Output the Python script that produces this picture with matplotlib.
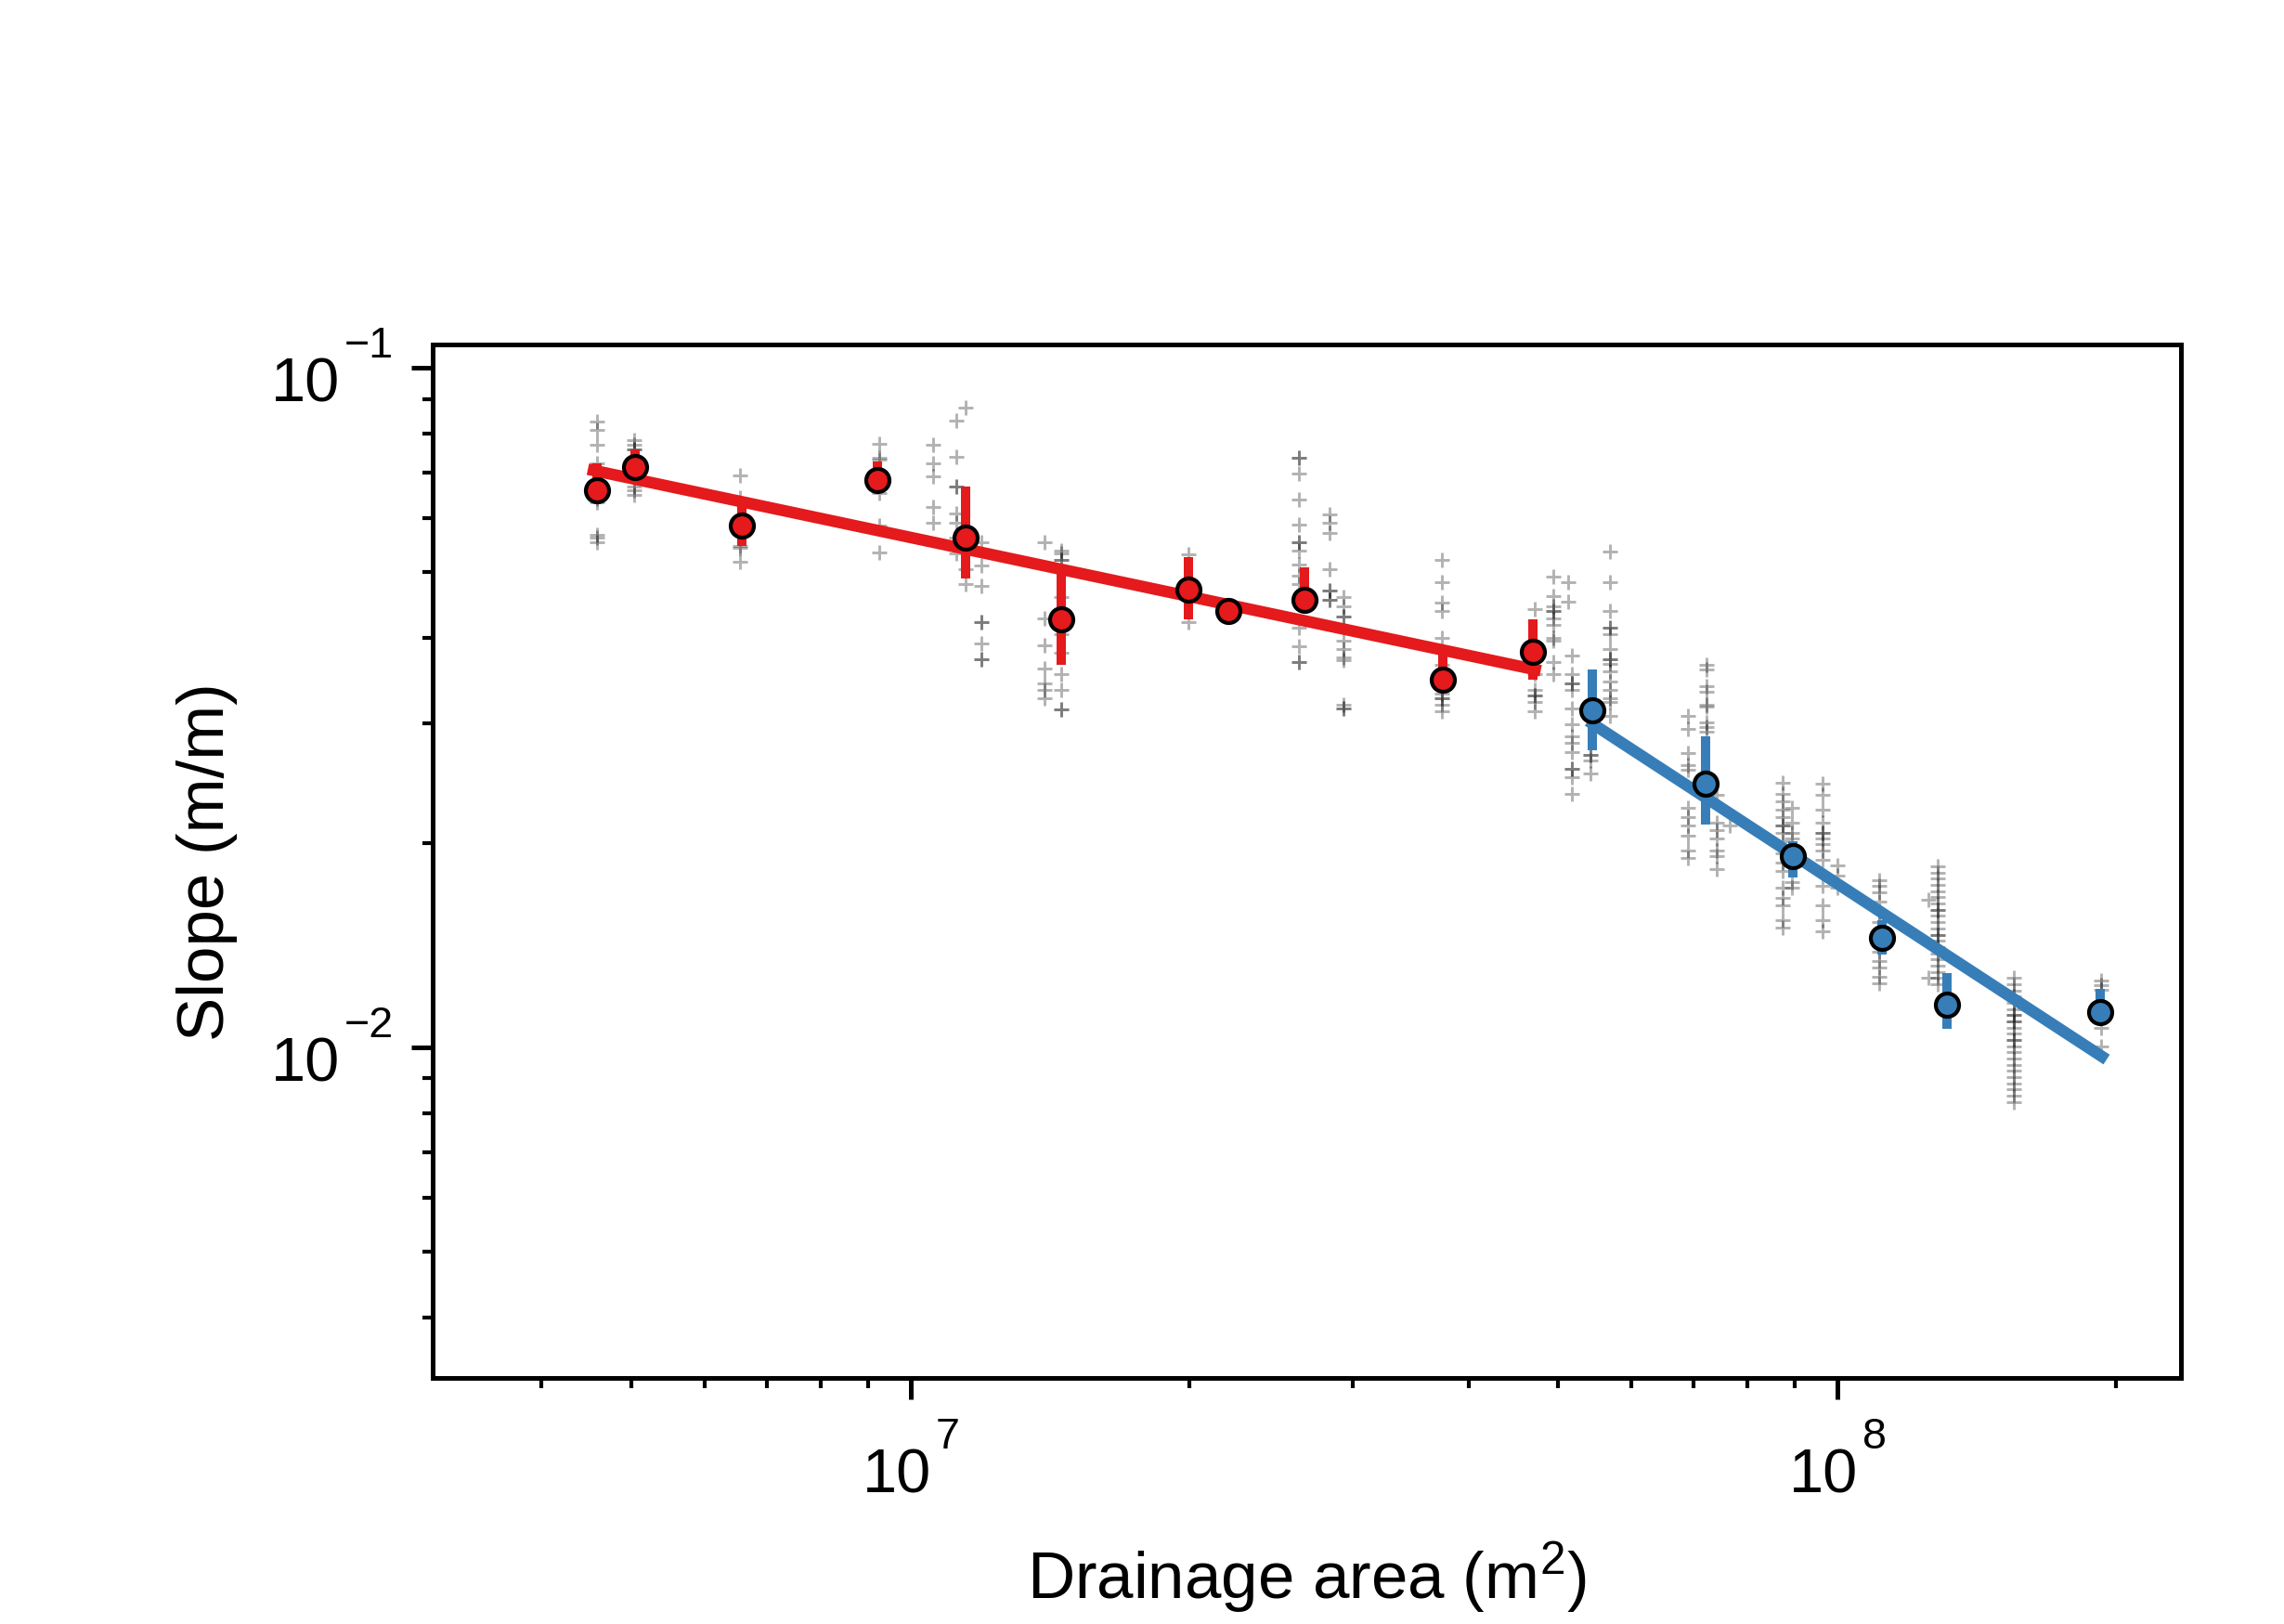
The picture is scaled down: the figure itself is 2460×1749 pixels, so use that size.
import numpy as np
import matplotlib
matplotlib.use("Agg")
import matplotlib.pyplot as plt
from matplotlib.transforms import offset_copy

plt.rcParams['font.family'] = ['Liberation Sans', 'DejaVu Sans']
plt.rcParams['font.size'] = 17

# binned channel data (drainage area m^2, slope m/m)
red_area = [4.59e6, 5.04e6, 6.58e6, 9.21e6, 1.148e7, 1.453e7, 1.995e7, 2.203e7, 2.66e7, 3.75e7, 4.70e7]
red_slope = [0.0661, 0.0715, 0.0586, 0.0683, 0.0562, 0.0426, 0.0472, 0.0438, 0.0455, 0.0347, 0.0382]
red_lo = [0.0655, 0.0690, 0.0547, 0.0675, 0.0490, 0.0365, 0.0426, 0.0438, 0.0440, 0.0343, 0.0347]
red_hi = [0.0723, 0.0758, 0.0631, 0.0727, 0.0668, 0.0506, 0.0526, 0.0438, 0.0508, 0.0379, 0.0427]

blue_area = [5.44e7, 7.21e7, 8.96e7, 1.118e8, 1.313e8, 1.924e8]
blue_slope = [0.0313, 0.0244, 0.0191, 0.0145, 0.01155, 0.01126]
blue_lo = [0.0274, 0.0213, 0.0178, 0.0137, 0.01064, 0.01080]
blue_hi = [0.0360, 0.0287, 0.0201, 0.0154, 0.01285, 0.01219]

# power law fits S = ks * A^-theta
red_ks, red_theta, red_range = 5.886, 0.2885, (4.55e6, 4.72e7)
blue_ks, blue_theta, blue_range = 2.33e5, 0.8908, (5.45e7, 1.93e8)

# major tick labels (base, exponent)
xtick_vals = [1e7, 1e8]
xtick_exp = ['7', '8']
ytick_vals = [1e-1, 1e-2]
ytick_exp = ['\u22121', '\u22122']

# raw pixel values
col_area = [4.59e6, 5.03e6, 6.55e6, 9.25e6, 1.058e7, 1.121e7, 1.147e7, 1.192e7, 1.395e7, 1.455e7,
            1.995e7, 2.628e7, 2.832e7, 2.93e7, 3.745e7, 4.72e7, 4.94e7, 5.13e7, 5.17e7, 5.42e7,
            5.68e7, 6.90e7, 7.22e7, 7.41e7, 7.66e7, 8.74e7, 8.94e7, 9.64e7, 1.0e8, 1.109e8,
            1.254e8, 1.284e8, 1.55e8, 1.927e8]
col_slope = [
    [0.0833, 0.0811, 0.0770, 0.0723, 0.0641, 0.0634, 0.0568, 0.0562, 0.0553],
    [0.0782, 0.0770, 0.0758, 0.0758, 0.0668, 0.0661, 0.0651],
    [0.0695, 0.0644, 0.0547, 0.0544, 0.0518],
    [0.0772, 0.0738, 0.0732, 0.0654, 0.0586, 0.0534],
    [0.0770, 0.0724, 0.0692, 0.0624, 0.0592],
    [0.0836, 0.0740, 0.0668, 0.0668, 0.0611, 0.0592, 0.0562, 0.0533],
    [0.0875, 0.0506, 0.0480],
    [0.0553, 0.0511, 0.0478, 0.0423, 0.0423, 0.0393, 0.0373, 0.0373],
    [0.0553, 0.0428, 0.0391, 0.0361, 0.0343, 0.0336, 0.0326],
    [0.0539, 0.0533, 0.0522, 0.0522, 0.0460, 0.0441, 0.0406, 0.0381, 0.0354, 0.0336, 0.0314, 0.0314],
    [0.0531, 0.0423],
    [0.0738, 0.0738, 0.0699, 0.0639, 0.0587, 0.0553, 0.0553, 0.0539, 0.0514, 0.0495, 0.0480, 0.0414, 0.0389, 0.0369, 0.0369],
    [0.0608, 0.0592, 0.0571, 0.0505, 0.0470, 0.0470, 0.0455, 0.0455],
    [0.0460, 0.0446, 0.0430, 0.0430, 0.0397, 0.0385, 0.0375, 0.0371, 0.0319, 0.0315, 0.0315],
    [0.0521, 0.0483, 0.0451, 0.0439, 0.0401, 0.0365, 0.0332, 0.0326, 0.0326, 0.0319, 0.0312],
    [0.0442, 0.0354, 0.0336, 0.0329, 0.0329, 0.0322, 0.0312],
    [0.0493, 0.0462, 0.0446, 0.0439, 0.0439, 0.0428, 0.0419, 0.0401, 0.0397, 0.0369, 0.0354],
    [0.0483, 0.0453],
    [0.0377, 0.0354, 0.0343, 0.0343, 0.0336, 0.0315, 0.0299, 0.0287, 0.0281, 0.0272, 0.0257, 0.0257, 0.0250, 0.0236],
    [0.0269, 0.0269, 0.0264, 0.0253],
    [0.0536, 0.0483, 0.0439, 0.0414, 0.0414, 0.0406, 0.0385, 0.0373, 0.0373, 0.0367, 0.0358, 0.0345,
     0.0336, 0.0326, 0.0322, 0.0307],
    [0.0307, 0.0294, 0.0271, 0.0260, 0.0256, 0.0225, 0.0218, 0.0212, 0.0205, 0.0195, 0.0190],
    [0.0365, 0.0360, 0.0340, 0.0334, 0.0319, 0.0317, 0.0301, 0.0296, 0.0291],
    [0.0235, 0.0214, 0.0209, 0.0203, 0.0195, 0.0191, 0.0183],
    [0.0212],
    [0.0245, 0.0236, 0.0230, 0.0224, 0.0218, 0.0212, 0.0212, 0.0207, 0.0201, 0.0193, 0.0187, 0.0182,
     0.0172, 0.0166, 0.0162, 0.0154, 0.0150],
    [0.0225, 0.0214, 0.0207, 0.0203, 0.0175, 0.0172],
    [0.0244, 0.0235, 0.0224, 0.0214, 0.0207, 0.0207, 0.0203, 0.0199, 0.0195, 0.0189, 0.0173, 0.0162,
     0.0154, 0.0148],
    [0.0185, 0.0179, 0.0172],
    [0.0176, 0.0173, 0.0169, 0.0164, 0.0158, 0.0153, 0.0148, 0.0142, 0.0138, 0.0134, 0.0131, 0.0127, 0.0124],
    [0.0165, 0.01266],
    [0.01846, 0.01808, 0.01770, 0.01734, 0.01697, 0.01662, 0.01628, 0.01594, 0.01594, 0.01561, 0.01528,
     0.01496, 0.01464, 0.01464, 0.01434, 0.01404, 0.01375, 0.01347, 0.01319, 0.01291, 0.01265, 0.01239],
    [0.01266, 0.01239, 0.01212, 0.01189, 0.01163, 0.01138, 0.01116, 0.01116, 0.01092, 0.01092, 0.01068,
     0.01048, 0.01025, 0.01025, 0.01003, 0.00984, 0.00963, 0.00942, 0.00924, 0.00904, 0.00885, 0.00868,
     0.00849, 0.00830],
    [0.01252, 0.01233, 0.01213, 0.01069, 0.01004],
]

RED = '#e41a1c'
BLUE = '#377eb8'

fig = plt.figure(figsize=(8.2, 5.8333), dpi=300)
ax = fig.add_axes([0.1894, 0.1514, 0.7655, 0.636])

for a, s in zip(col_area, col_slope):
    ax.plot([a] * len(s), s, '+', color='k', alpha=0.3, ms=4, mew=0.7, zorder=1)

ax.errorbar(red_area, red_slope,
            yerr=[np.array(red_slope) - np.array(red_lo), np.array(red_hi) - np.array(red_slope)],
            fmt='none', ecolor=RED, elinewidth=2.4, capsize=0, zorder=2)
ax.errorbar(blue_area, blue_slope,
            yerr=[np.array(blue_slope) - np.array(blue_lo), np.array(blue_hi) - np.array(blue_slope)],
            fmt='none', ecolor=BLUE, elinewidth=2.4, capsize=0, zorder=2)

xr = np.array(red_range)
ax.plot(xr, red_ks * xr ** -red_theta, '-', color=RED, lw=3, zorder=3)
xb = np.array(blue_range)
ax.plot(xb, blue_ks * xb ** -blue_theta, '-', color=BLUE, lw=3, zorder=3)

ax.plot(red_area, red_slope, 'o', mfc=RED, mec='k', ms=6, mew=1, zorder=4)
ax.plot(blue_area, blue_slope, 'o', mfc=BLUE, mec='k', ms=6, mew=1, zorder=4)

ax.set_xscale('log')
ax.set_yscale('log')
ax.set_xlim(3.05e6, 2.35e8)
ax.set_ylim(0.00326, 0.1082)

for sp in ax.spines.values():
    sp.set_linewidth(1.2)
ax.set_xticks(xtick_vals)
ax.set_yticks(ytick_vals)
ax.tick_params(which='major', length=5.5, width=1.2, labelbottom=False, labelleft=False)
ax.tick_params(which='minor', length=2.6, width=1.0)

# tick labels as base + raised exponent
xt = ax.get_xaxis_transform()
for v, e in zip(xtick_vals, xtick_exp):
    ax.text(v, 0, '10', fontsize=16, ha='right', va='baseline', clip_on=False,
            transform=offset_copy(xt, fig=fig, x=5.3, y=-29.5, units='points'))
    ax.text(v, 0, e, fontsize=11.2, ha='left', va='baseline', clip_on=False,
            transform=offset_copy(xt, fig=fig, x=6.5, y=-18, units='points'))
yt = ax.get_yaxis_transform()
for v, e in zip(ytick_vals, ytick_exp):
    ax.text(0, v, '10', fontsize=16, ha='right', va='baseline', clip_on=False,
            transform=offset_copy(yt, fig=fig, x=-24, y=-8.6, units='points'))
    ax.text(0, v, e, fontsize=11.2, ha='left', va='baseline', clip_on=False,
            transform=offset_copy(yt, fig=fig, x=-22.8, y=2.9, units='points'))

ax.set_xlabel(r'Drainage area (m$\mathregular{^2}$)', fontsize=17, va='center')
ax.xaxis.set_label_coords(0.5, -0.1915)
ax.set_ylabel('Slope (m/m)', fontsize=17, va='center')
ax.yaxis.set_label_coords(-0.129, 0.5)

fig.savefig('out.png', dpi=300)
